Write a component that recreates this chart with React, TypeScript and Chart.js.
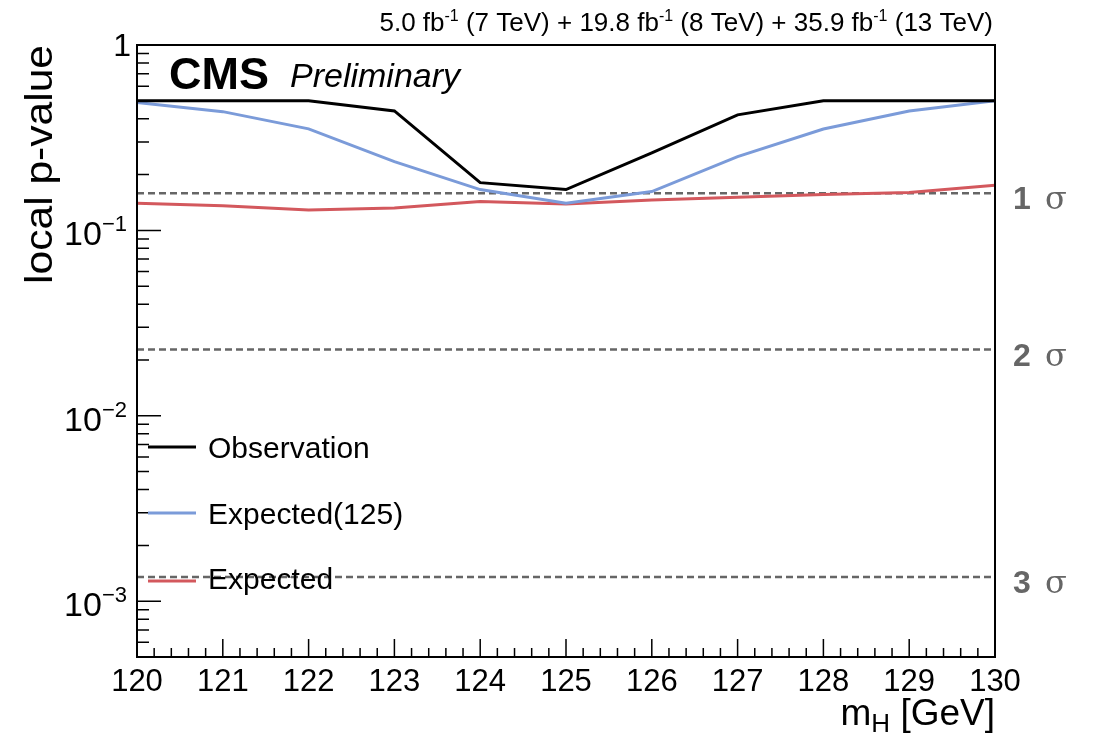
import React, { useEffect, useRef } from "react";
import { Chart, registerables } from "chart.js";

Chart.register(...registerables);

// Higgs boson mass hypotheses [GeV]
const masses = [120, 121, 122, 123, 124, 125, 126, 127, 128, 129, 130];

// Local p-values
const observed = [0.5, 0.5, 0.5, 0.441, 0.181, 0.166, 0.262, 0.42, 0.5, 0.5, 0.5];
const expected125 = [0.489, 0.437, 0.353, 0.235, 0.166, 0.14, 0.162, 0.25, 0.352, 0.441, 0.5];
const expected = [0.14, 0.136, 0.129, 0.132, 0.143, 0.139, 0.146, 0.151, 0.156, 0.16, 0.175];

// One-sided significance thresholds
const sigmaLevels = [1, 2, 3];
const sigmaPValues = [0.1587, 0.02275, 0.00135];

// Axis ranges and tick labels
const xMin = 120;
const xMax = 130;
const yMin = 5e-4;
const yMax = 1;
const xTickValues = [120, 121, 122, 123, 124, 125, 126, 127, 128, 129, 130];
const yTickValues = [1, 0.1, 0.01, 0.001];
const yTickExponents = ["", "\u22121", "\u22122", "\u22123"];

const seriesNames = ["Observation", "Expected(125)", "Expected"];
const seriesColors = ["#000000", "#7b9bd9", "#d3585d"];

const SANS = '"Liberation Sans", Arial, Helvetica, sans-serif';
const SERIF = '"DejaVu Serif", "Liberation Serif", serif';

type Seg = { t: string; sup?: boolean };

function richWidth(ctx: CanvasRenderingContext2D, segs: Seg[], size: number, supSize: number) {
  let w = 0;
  for (const s of segs) {
    ctx.font = `${s.sup ? supSize : size}px ${SANS}`;
    w += ctx.measureText(s.t).width;
  }
  return w;
}

function drawRich(
  ctx: CanvasRenderingContext2D,
  segs: Seg[],
  xRight: number,
  baseline: number,
  size: number,
  supSize: number,
  supRaise: number
) {
  let x = xRight - richWidth(ctx, segs, size, supSize);
  ctx.textAlign = "left";
  ctx.textBaseline = "alphabetic";
  for (const s of segs) {
    ctx.font = `${s.sup ? supSize : size}px ${SANS}`;
    ctx.fillText(s.t, x, s.sup ? baseline - supRaise : baseline);
    x += ctx.measureText(s.t).width;
  }
}

const decorations = {
  id: "cmsDecorations",
  afterDatasetsDraw(chart: Chart) {
    const ctx = chart.ctx;
    const area = chart.chartArea;
    const xs = chart.scales.x;
    const ys = chart.scales.y;
    ctx.save();

    // frame
    ctx.strokeStyle = "#000";
    ctx.lineWidth = 2;
    ctx.strokeRect(area.left, area.top, area.right - area.left, area.bottom - area.top);

    // x ticks (inward), major every 1 GeV, minor every 0.2 GeV
    ctx.lineWidth = 1.5;
    ctx.beginPath();
    for (let i = 0; i <= 50; i++) {
      const v = xMin + i * 0.2;
      const px = xs.getPixelForValue(v);
      const len = i % 5 === 0 ? 18 : 9;
      ctx.moveTo(px, area.bottom);
      ctx.lineTo(px, area.bottom - len);
    }
    // y ticks (inward), log decades with minor ticks at 2..9
    for (let e = -4; e <= 0; e++) {
      for (let m = 1; m <= 9; m++) {
        const v = m * Math.pow(10, e);
        if (v < yMin * 0.999 || v > yMax * 1.001) continue;
        const py = ys.getPixelForValue(v);
        const len = m === 1 ? 24 : 12;
        ctx.moveTo(area.left, py);
        ctx.lineTo(area.left + len, py);
      }
    }
    ctx.stroke();

    // x tick labels
    ctx.fillStyle = "#000";
    ctx.font = `31px ${SANS}`;
    ctx.textAlign = "center";
    ctx.textBaseline = "alphabetic";
    xTickValues.forEach((v) => {
      ctx.fillText(String(v), xs.getPixelForValue(v), 691);
    });

    // y tick labels
    yTickValues.forEach((v, i) => {
      const py = ys.getPixelForValue(v);
      if (yTickExponents[i] === "") {
        ctx.font = `32px ${SANS}`;
        ctx.textAlign = "right";
        ctx.fillText("1", 131, py + 11);
      } else {
        drawRich(ctx, [{ t: "10" }, { t: yTickExponents[i], sup: true }], 127, py + 15, 34, 22, 14);
      }
    });

    // y axis title, aligned to the top end of the axis
    ctx.fillStyle = "#000";
    ctx.font = `38px ${SANS}`;
    ctx.save();
    ctx.translate(52, area.top);
    ctx.rotate(-Math.PI / 2);
    ctx.scale(1.12, 1);
    ctx.textAlign = "right";
    ctx.fillText("local p-value", 0, 0);
    ctx.restore();

    // m_H [GeV]
    ctx.textAlign = "left";
    const part1 = "m";
    const part3 = " [GeV]";
    ctx.font = `26px ${SANS}`;
    const wH = ctx.measureText("H").width;
    ctx.font = `37px ${SANS}`;
    const w1 = ctx.measureText(part1).width;
    const w3 = ctx.measureText(part3).width;
    let tx = area.right - (w1 + wH + w3);
    const tb = 725;
    ctx.fillText(part1, tx, tb);
    tx += w1;
    ctx.font = `26px ${SANS}`;
    ctx.fillText("H", tx, tb + 7);
    tx += wH;
    ctx.font = `37px ${SANS}`;
    ctx.fillText(part3, tx, tb);

    // luminosity label
    drawRich(
      ctx,
      [
        { t: "5.0 fb" },
        { t: "-1", sup: true },
        { t: " (7 TeV) + 19.8 fb" },
        { t: "-1", sup: true },
        { t: " (8 TeV) + 35.9 fb" },
        { t: "-1", sup: true },
        { t: " (13 TeV)" },
      ],
      area.right - 2,
      31,
      26,
      16,
      10
    );

    // CMS Preliminary
    ctx.textAlign = "left";
    ctx.font = `bold 45px ${SANS}`;
    ctx.fillText("CMS", 169, 89);
    ctx.font = `italic 34px ${SANS}`;
    ctx.fillText("Preliminary", 290, 87);

    // sigma labels
    ctx.fillStyle = "#666666";
    sigmaLevels.forEach((n, i) => {
      const py = ys.getPixelForValue(sigmaPValues[i]);
      ctx.font = `bold 32px ${SANS}`;
      ctx.fillText(String(n), 1013, py + 16);
      ctx.font = `32px ${SERIF}`;
      ctx.fillText("\u03c3", 1045, py + 16);
    });

    // legend
    const legendY = [447, 513, 581];
    const textY = [447, 513, 578];
    seriesNames.forEach((name, i) => {
      ctx.strokeStyle = seriesColors[i];
      ctx.lineWidth = 3;
      ctx.beginPath();
      ctx.moveTo(148, legendY[i]);
      ctx.lineTo(196, legendY[i]);
      ctx.stroke();
      ctx.fillStyle = "#000";
      ctx.font = `30px ${SANS}`;
      ctx.textAlign = "left";
      ctx.fillText(name, 208, textY[i] + 11);
    });

    ctx.restore();
  },
};

export default function App() {
  const canvasRef = useRef<HTMLCanvasElement | null>(null);

  useEffect(() => {
    if (!canvasRef.current) return;
    const toPoints = (vals: number[]) => masses.map((m, i) => ({ x: m, y: vals[i] }));
    const seriesData = [observed, expected125, expected];

    const chart = new Chart(canvasRef.current, {
      type: "line",
      data: {
        datasets: [
          ...seriesData.map((vals, i) => ({
            label: seriesNames[i],
            data: toPoints(vals),
            borderColor: seriesColors[i],
            borderWidth: 3,
            pointRadius: 0,
            tension: 0,
            fill: false,
          })),
          ...sigmaPValues.map((p, i) => ({
            label: `${sigmaLevels[i]} sigma`,
            data: [
              { x: xMin, y: p },
              { x: xMax, y: p },
            ],
            borderColor: "#666666",
            borderWidth: 2.5,
            borderDash: [7, 4],
            pointRadius: 0,
            tension: 0,
            fill: false,
          })),
        ],
      },
      options: {
        animation: false,
        responsive: false,
        devicePixelRatio: 1,
        layout: { padding: { left: 137, right: 101, top: 45, bottom: 83 } },
        scales: {
          x: { type: "linear", min: xMin, max: xMax, display: false },
          y: { type: "logarithmic", min: yMin, max: yMax, display: false },
        },
        plugins: {
          legend: { display: false },
          tooltip: { enabled: false },
        },
      },
      plugins: [decorations],
    });
    return () => chart.destroy();
  }, []);

  return (
    <div style={{ position: "absolute", left: 0, top: 0, width: 1096, height: 740, background: "#fff" }}>
      <canvas ref={canvasRef} width={1096} height={740} style={{ width: 1096, height: 740 }} />
    </div>
  );
}
